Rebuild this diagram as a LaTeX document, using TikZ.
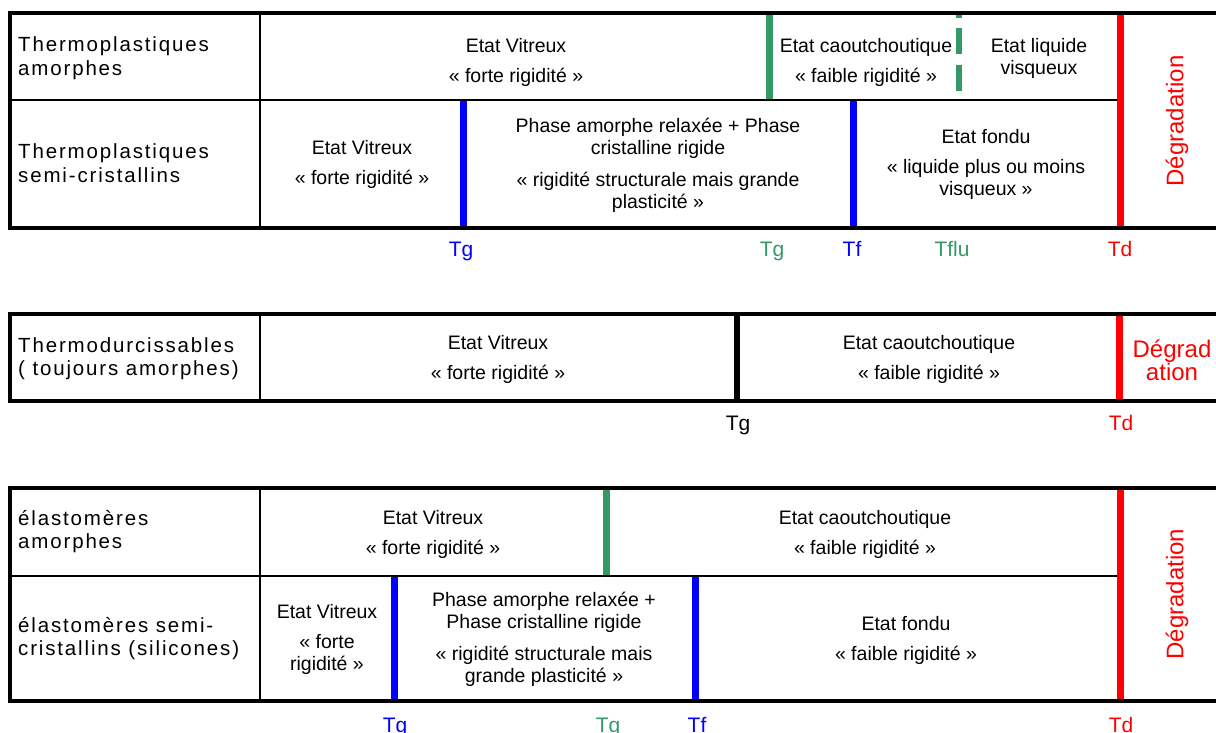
\documentclass[tikz,border=0pt]{standalone}
\usepackage{fontspec}
\setmainfont{Liberation Sans}
\newfontfamily\lblfont[LetterSpace=9]{Liberation Sans}
\usepackage{tikz}

\definecolor{vertT}{RGB}{51,153,102}
\definecolor{bleuT}{RGB}{0,0,255}
\definecolor{rougeT}{RGB}{255,0,0}

\begin{document}
\begin{tikzpicture}[x=1pt, y=-1pt, every node/.style={inner sep=0pt, font=\fontsize{19.5}{22}\selectfont}, cell/.style={align=center}, lbl/.style={anchor=west, align=left, font=\lblfont\fontsize{20.5}{23.5}\selectfont}, deg/.style={text=rougeT, align=center, font=\fontsize{24}{23}\selectfont}, temp/.style={anchor=base, font=\fontsize{21}{24}\selectfont}, frame/.style={line width=4pt}, sep/.style={line width=2pt}, trans/.style={line width=7pt}]
\useasboundingbox (0,0) rectangle (1216,733);
% thermoplastiques
\draw[trans, rougeT] (1120,13) -- (1120,228);
\draw[trans, vertT] (769,13) -- (769,100);
\draw[vertT, line width=6pt, dash pattern=on 26pt off 10.5pt, dash phase=22pt] (959,14) -- (959,100);
\draw[trans, bleuT] (463,100) -- (463,228); \draw[trans, bleuT] (853,100) -- (853,228);
\draw[sep] (10,100) -- (1117,100); \draw[sep] (260,13) -- (260,228);
\draw[frame] (1230,13) -- (10,13) -- (10,228) -- (1230,228);
\node[lbl] (tpa) at (18,58) {Thermoplastiques\\amorphes};
\node[lbl] (tpsc) at (18,163) {Thermoplastiques\\semi-cristallins};
\node[cell] (vitA) at (516,62) {Etat Vitreux\\[8pt]« forte rigidité »};
\node[cell] (caoutA) at (866,62) {Etat caoutchoutique\\[8pt]« faible rigidité »};
\node[cell] (liqA) at (1039,58.5) {Etat liquide\\visqueux};
\node[cell] (vitSc) at (362,164) {Etat Vitreux\\[8pt]« forte rigidité »};
\node[cell] (phaseSc) at (658,165) {Phase amorphe relaxée + Phase\\cristalline rigide\\[10pt]« rigidité structurale mais grande\\plasticité »};
\node[cell] (fonduSc) at (986,164) {Etat fondu\\[8pt]« liquide plus ou moins\\visqueux »};
\node[deg, rotate=90] (degTp) at (1177,121) {Dégradation};
\node[temp, text=bleuT] (tgTp) at (461,256) {Tg};
\node[temp, text=vertT] (tgTpA) at (772,256) {Tg};
\node[temp, text=bleuT] (tfTp) at (852,256) {Tf};
\node[temp, text=vertT] (tfluTp) at (952,256) {Tflu};
\node[temp, text=rougeT] (tdTp) at (1120,256) {Td};
% thermodurcissables
\draw[trans, rougeT] (1119,314) -- (1119,401);
\draw[line width=6pt] (737,314) -- (737,401);
\draw[sep] (260,314) -- (260,401);
\draw[frame] (1230,314) -- (10,314) -- (10,401) -- (1230,401);
\node[lbl] (td) at (18,358.5) {Thermodurcissables\\( toujours amorphes)};
\node[cell] (vitTd) at (498,359) {Etat Vitreux\\[8pt]« forte rigidité »};
\node[cell] (caoutTd) at (929,359) {Etat caoutchoutique\\[8pt]« faible rigidité »};
\node[deg] (degTd) at (1172,360.5) {Dégrad\\ation};
\node[temp] (tgTd) at (738,430) {Tg};
\node[temp, text=rougeT] (tdTd) at (1121,430) {Td};
% elastomeres
\draw[trans, rougeT] (1120,488) -- (1120,701);
\draw[trans, vertT] (606,488) -- (606,576);
\draw[trans, bleuT] (394,576) -- (394,701); \draw[trans, bleuT] (695,576) -- (695,701);
\draw[sep] (10,576) -- (1117,576); \draw[sep] (260,488) -- (260,701);
\draw[frame] (1230,488) -- (10,488) -- (10,701) -- (1230,701);
\node[lbl] (ela) at (18,531.5) {élastomères\\amorphes};
\node[lbl] (elsc) at (18,638.5) {élastomères semi-\\cristallins (silicones)};
\node[cell] (vitEa) at (433,534) {Etat Vitreux\\[8pt]« forte rigidité »};
\node[cell] (caoutEa) at (865,534) {Etat caoutchoutique\\[8pt]« faible rigidité »};
\node[cell] (vitEsc) at (327,639) {Etat Vitreux\\[8pt]« forte\\rigidité »};
\node[cell] (phaseEsc) at (544,639.5) {Phase amorphe relaxée +\\Phase cristalline rigide\\[10pt]« rigidité structurale mais\\grande plasticité »};
\node[cell] (fonduEsc) at (906,640) {Etat fondu\\[8pt]« faible rigidité »};
\node[deg, rotate=90] (degEl) at (1177,594) {Dégradation};
\node[temp, text=bleuT] (tgEl) at (395,732) {Tg};
\node[temp, text=vertT] (tgElA) at (608,732) {Tg};
\node[temp, text=bleuT] (tfEl) at (697,732) {Tf};
\node[temp, text=rougeT] (tdEl) at (1121,732) {Td};
\end{tikzpicture}
\end{document}
